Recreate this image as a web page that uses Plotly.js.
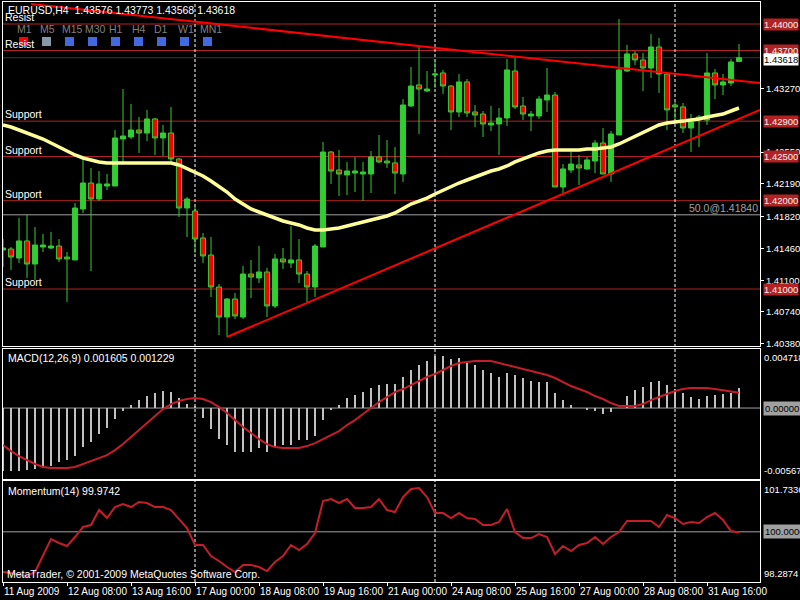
<!DOCTYPE html>
<html><head><meta charset="utf-8">
<script src="https://cdn.plot.ly/plotly-3.0.1.min.js"></script>
<style>html,body{margin:0;padding:0;background:#000;overflow:hidden}</style>
</head><body><div id="chart" style="width:800px;height:600px"></div>
<script>
// ---------- DATA (EURUSD H4, bar index 0 = 11 Aug 2009 00:00) ----------
const openP = [1.41442,1.41453,1.41351,1.41544,1.41283,1.41476,1.41464,1.41487,1.41362,1.41329,
 1.41906,1.42200,1.42019,1.42166,1.42166,1.42698,1.42721,1.42800,1.42766,1.42925,
 1.42710,1.42766,1.42472,1.41917,1.41883,1.41578,1.41385,1.41023,1.40683,1.40887,
 1.40683,1.41170,1.41125,1.41193,1.40808,1.41340,1.41295,1.41329,1.41170,1.41023,
 1.41476,1.42551,1.42347,1.42291,1.42313,1.42302,1.42302,1.42495,1.42449,1.42427,
 1.42302,1.43072,1.43310,1.43242,1.43423,1.43446,1.43298,1.43004,1.43344,1.43004,
 1.42981,1.42857,1.42868,1.42936,1.43468,1.43072,1.42959,1.42959,1.43140,1.43196,
 1.42155,1.42347,1.42404,1.42359,1.42449,1.42653,1.42302,1.42744,1.43468,1.43661,
 1.43593,1.43502,1.43740,1.43434,1.43083,1.43061,1.42823,1.42925,1.42913,1.43446,
 1.43310,1.43332,1.43576];
const highP = [1.41566,1.41476,1.41804,1.41838,1.41702,1.41623,1.41646,1.41566,1.41419,1.41974,
 1.42461,1.42370,1.42336,1.42302,1.42800,1.43264,1.43095,1.42947,1.43027,1.42936,
 1.42857,1.43061,1.42483,1.42042,1.41940,1.41634,1.41589,1.41057,1.40898,1.40955,
 1.41261,1.41329,1.41487,1.41238,1.41396,1.41464,1.41713,1.41566,1.41204,1.41510,
 1.42664,1.42563,1.42574,1.42438,1.42495,1.42438,1.42563,1.42744,1.42687,1.42608,
 1.43151,1.43513,1.43740,1.43468,1.43593,1.43480,1.43310,1.43434,1.43378,1.43083,
 1.43015,1.43072,1.43049,1.43604,1.43615,1.43174,1.43015,1.43185,1.43502,1.43230,
 1.42415,1.42551,1.42517,1.42495,1.42687,1.42823,1.42789,1.44057,1.43763,1.43695,
 1.43672,1.43887,1.43842,1.43457,1.43117,1.43106,1.42981,1.42970,1.43672,1.43491,
 1.43434,1.43604,1.43773];
const lowP = [1.41249,1.41215,1.41295,1.41125,1.41102,1.41419,1.41453,1.41306,1.40853,1.41329,
 1.41861,1.41204,1.41996,1.42121,1.42166,1.42438,1.42698,1.42540,1.42676,1.42517,
 1.42506,1.42438,1.41815,1.41589,1.41408,1.41295,1.40910,1.40479,1.40457,1.40661,
 1.40661,1.40898,1.41068,1.40683,1.40785,1.41227,1.41238,1.41068,1.40853,1.40910,
 1.41476,1.42189,1.42053,1.42064,1.42098,1.41996,1.42087,1.42427,1.42370,1.42076,
 1.42212,1.43061,1.42755,1.43230,1.43276,1.43208,1.42800,1.42947,1.42947,1.42834,
 1.42721,1.42789,1.42517,1.42846,1.43038,1.42913,1.42789,1.42925,1.43004,1.42155,
 1.42087,1.42313,1.42178,1.42347,1.42313,1.42302,1.42212,1.42744,1.43457,1.43536,
 1.43242,1.43389,1.43219,1.42800,1.42880,1.42766,1.42551,1.42608,1.42857,1.43151,
 1.43196,1.43298,1.43568];
const closeP = [1.41464,1.41362,1.41544,1.41283,1.41498,1.41498,1.41487,1.41340,1.41340,1.41917,
 1.42200,1.42019,1.42189,1.42189,1.42710,1.42732,1.42800,1.42766,1.42925,1.42710,
 1.42766,1.42472,1.41917,1.42019,1.41566,1.41374,1.41023,1.40683,1.40887,1.40695,
 1.41170,1.41136,1.41193,1.40808,1.41340,1.41306,1.41329,1.41170,1.41023,1.41487,
 1.42551,1.42336,1.42302,1.42336,1.42336,1.42325,1.42495,1.42438,1.42427,1.42313,
 1.43083,1.43298,1.43264,1.43264,1.43434,1.43298,1.43004,1.43344,1.42993,1.42970,
 1.42868,1.42880,1.42936,1.43480,1.43061,1.42981,1.42981,1.43151,1.43196,1.42155,
 1.42359,1.42415,1.42370,1.42461,1.42653,1.42302,1.42755,1.43480,1.43661,1.43593,
 1.43502,1.43740,1.43434,1.43027,1.43061,1.42823,1.42891,1.42947,1.43446,1.43310,
 1.43344,1.43570,1.43618];
const maLine = [1.42857,1.42834,1.42800,1.42766,1.42732,1.42698,1.42653,1.42608,1.42563,1.42517,
 1.42483,1.42461,1.42438,1.42427,1.42427,1.42427,1.42427,1.42427,1.42427,1.42427,
 1.42427,1.42427,1.42404,1.42359,1.42325,1.42280,1.42223,1.42166,1.42098,1.42019,
 1.41962,1.41906,1.41872,1.41838,1.41804,1.41770,1.41747,1.41725,1.41691,1.41668,
 1.41668,1.41679,1.41691,1.41713,1.41736,1.41759,1.41781,1.41804,1.41827,1.41861,
 1.41906,1.41962,1.41996,1.42030,1.42076,1.42121,1.42155,1.42200,1.42234,1.42268,
 1.42302,1.42336,1.42359,1.42393,1.42438,1.42472,1.42506,1.42540,1.42563,1.42574,
 1.42574,1.42574,1.42574,1.42585,1.42585,1.42596,1.42608,1.42642,1.42687,1.42732,
 1.42778,1.42823,1.42857,1.42880,1.42891,1.42902,1.42913,1.42925,1.42947,1.42959,
 1.42981,1.43015,1.43049];
const macdHist = [-0.00503,-0.00503,-0.00503,-0.00495,-0.00487,-0.00479,-0.00463,-0.00432,-0.00416,-0.00384,
 -0.00312,-0.00272,-0.00208,-0.00160,-0.00088,-0.00024,0.00024,0.00064,0.00096,0.00120,
 0.00136,0.00128,0.00080,0.00032,0.00016,-0.00080,-0.00168,-0.00248,-0.00296,-0.00352,
 -0.00352,-0.00352,-0.00320,-0.00352,-0.00312,-0.00296,-0.00296,-0.00256,-0.00256,-0.00224,
 -0.00096,-0.00016,0.00024,0.00080,0.00104,0.00128,0.00160,0.00184,0.00192,0.00192,
 0.00248,0.00304,0.00344,0.00376,0.00416,0.00416,0.00392,0.00400,0.00368,0.00344,
 0.00304,0.00280,0.00248,0.00280,0.00264,0.00240,0.00216,0.00208,0.00208,0.00120,
 0.00064,0.00024,0.00002,-0.00016,-0.00024,-0.00048,-0.00032,0.00002,0.00096,0.00144,
 0.00168,0.00208,0.00216,0.00184,0.00152,0.00120,0.00088,0.00072,0.00096,0.00104,
 0.00112,0.00120,0.001605];
const macdSignal = [-0.00296,-0.00344,-0.00384,-0.00416,-0.00447,-0.00471,-0.00479,-0.00479,-0.00479,-0.00471,
 -0.00447,-0.00424,-0.00400,-0.00376,-0.00336,-0.00288,-0.00232,-0.00176,-0.00120,-0.00064,
 -0.00008,0.00032,0.00056,0.00072,0.00080,0.00072,0.00048,0.00008,-0.00040,-0.00096,
 -0.00152,-0.00200,-0.00248,-0.00288,-0.00312,-0.00320,-0.00320,-0.00320,-0.00304,-0.00280,
 -0.00248,-0.00216,-0.00184,-0.00136,-0.00096,-0.00048,0.00000,0.00048,0.00088,0.00128,
 0.00152,0.00184,0.00216,0.00248,0.00272,0.00304,0.00336,0.00360,0.00368,0.00376,
 0.00376,0.00376,0.00360,0.00344,0.00328,0.00312,0.00296,0.00280,0.00264,0.00240,
 0.00208,0.00176,0.00152,0.00128,0.00096,0.00072,0.00040,0.00016,0.00016,0.00016,
 0.00032,0.00064,0.00088,0.00112,0.00136,0.00152,0.00160,0.00160,0.00160,0.00152,
 0.00144,0.00136,0.001229];
const momentum = [98.628,98.594,98.526,98.492,98.628,99.174,99.754,99.618,99.516,99.823,
 100.164,100.232,100.744,100.471,100.846,100.949,100.846,101.017,100.983,100.846,
 100.846,100.744,100.437,100.130,99.550,99.550,99.174,99.004,98.799,98.628,
 98.867,98.867,98.799,98.662,98.970,99.174,99.550,99.379,99.584,99.959,
 101.051,101.119,100.983,101.119,100.812,100.812,100.846,101.119,100.744,100.676,
 101.187,101.460,101.494,101.187,100.641,100.641,100.471,100.641,100.471,100.437,
 100.232,100.232,100.334,100.778,99.993,99.788,99.788,99.925,99.823,99.243,
 99.516,99.345,99.550,99.618,99.823,99.584,99.823,99.993,100.368,100.368,
 100.368,100.368,100.164,100.573,100.471,100.266,100.334,100.300,100.505,100.641,
 100.403,100.027,99.9742];
// time axis labels (every 8 bars)
const timeTickBars = [0,8,16,24,32,40,48,56,64,72,80,88];
const timeTickText = ["11 Aug 2009","12 Aug 08:00","13 Aug 16:00","17 Aug 00:00","18 Aug 08:00","19 Aug 16:00",
  "21 Aug 00:00","24 Aug 08:00","25 Aug 16:00","27 Aug 00:00","28 Aug 08:00","31 Aug 16:00"];
const weekStartBars = [24, 54, 84];
// horizontal levels
const resistLevels = [1.44000, 1.43700];
const supportLevels = [1.42900, 1.42500, 1.42000, 1.41000];
const fibLevel = 1.41840;
const bidPrice = 1.43618;
const priceTicks = [1.43270,1.42550,1.42190,1.41820,1.41460,1.41100,1.40740,1.40380];
// trend lines (bar index, price)
const trendDownX = [3.5, 94.625], trendDownY = [1.44227, 1.43332];
const trendUpX = [28, 94.625], trendUpY = [1.40457, 1.43027];
const timeframes = ["M1","M5","M15","M30","H1","H4","D1","W1","MN1"];

// ---------- CHART ----------
const idx = openP.map((_, i) => i);
const FONT = 'Liberation Sans, Arial, sans-serif';
const GREEN = '#32CD32', DRED = '#B22222', SIG = '#C41E2A';
// pixel helpers for decorations (plot area x 3..760, y 2..582)
const px = x => (x - 3) / 757, py = y => (582 - y) / 580;

const traces = [
  {type:'candlestick', x: idx, open: openP, high: highP, low: lowP, close: closeP,
   xaxis:'x', yaxis:'y', hoverinfo:'skip', whiskerwidth: 0,
   increasing:{line:{color:GREEN, width:1}, fillcolor:GREEN},
   decreasing:{line:{color:GREEN, width:1}, fillcolor:'#FF0000'}},
  {type:'scatter', mode:'lines', x: idx, y: maLine, xaxis:'x', yaxis:'y',
   line:{color:'#FFFF99', width:3.5}, hoverinfo:'skip'},
  {type:'scatter', mode:'lines', x: trendDownX, y: trendDownY, xaxis:'x', yaxis:'y',
   line:{color:'#FF0000', width:2}, hoverinfo:'skip'},
  {type:'scatter', mode:'lines', x: trendUpX, y: trendUpY, xaxis:'x', yaxis:'y',
   line:{color:'#FF0000', width:2}, hoverinfo:'skip'},
  {type:'bar', x: idx, y: macdHist, xaxis:'x2', yaxis:'y2', width:0.14,
   marker:{color:'#C0C0C0', line:{width:0}}, hoverinfo:'skip'},
  {type:'scatter', mode:'lines', x: idx, y: macdSignal, xaxis:'x2', yaxis:'y2',
   line:{color:SIG, width:2}, hoverinfo:'skip'},
  {type:'scatter', mode:'lines', x: idx, y: momentum, xaxis:'x3', yaxis:'y3',
   line:{color:SIG, width:2}, hoverinfo:'skip'}
];

const xBase = {showline:true, mirror:true, linecolor:'#FFFFFF', linewidth:1, showgrid:false,
  zeroline:false, fixedrange:true};
const layout = {
  width:800, height:600, paper_bgcolor:'#000', plot_bgcolor:'#000',
  margin:{l:3, r:40, t:2, b:18}, showlegend:false, boxgap:0.2, boxgroupgap:0.2, bargap:0,
  font:{family:FONT, color:'#FFFFFF', size:10},
  xaxis: Object.assign({}, xBase, {anchor:'y', range:[0, 94.625], showticklabels:false, ticks:'',
    rangeslider:{visible:false}}),
  xaxis2: Object.assign({}, xBase, {anchor:'y2', matches:'x', showticklabels:false, ticks:''}),
  xaxis3: Object.assign({}, xBase, {anchor:'y3', matches:'x', tickmode:'array', tickvals: timeTickBars,
    ticktext: timeTickText, ticks:'outside', ticklen:3, tickcolor:'#FFFFFF', tickangle:0,
    ticklabelposition:'outside right', automargin:false, tickfont:{size:10, color:'#FFFFFF'}}),
  yaxis: {domain:[0.4069, 1], range:[1.40355, 1.44249], side:'right', showline:true, mirror:true,
    linecolor:'#FFFFFF', showgrid:false, zeroline:false, tickmode:'array', tickvals: priceTicks,
    tickformat:'.5f', ticks:'outside', ticklen:3, tickcolor:'#FFFFFF', automargin:false,
    tickfont:{size:9.5, color:'#FFFFFF'}, fixedrange:true},
  yaxis2: {domain:[0.1776, 0.4017], range:[-0.00567, 0.004718], side:'right', showline:true, mirror:true,
    linecolor:'#FFFFFF', showgrid:false, zeroline:false, showticklabels:false, ticks:'', fixedrange:true},
  yaxis3: {domain:[0, 0.1741], range:[98.2874, 101.7336], side:'right', showline:true, mirror:true,
    linecolor:'#FFFFFF', showgrid:false, zeroline:false, showticklabels:false, ticks:'', fixedrange:true},
  shapes: [], annotations: []
};

// horizontal level lines
resistLevels.concat(supportLevels).forEach(v => layout.shapes.push({type:'line', xref:'paper', x0:0, x1:1,
  yref:'y', y0:v, y1:v, line:{color:DRED, width:1}, layer:'below'}));
layout.shapes.push({type:'line', xref:'paper', x0:0, x1:1, yref:'y', y0:fibLevel, y1:fibLevel,
  line:{color:'#A0A0A0', width:1}, layer:'below'});
layout.shapes.push({type:'line', xref:'paper', x0:0, x1:1, yref:'y', y0:bidPrice, y1:bidPrice,
  line:{color:'#383838', width:1}, layer:'below'});
layout.shapes.push({type:'line', xref:'paper', x0:0, x1:1, yref:'y2', y0:0, y1:0,
  line:{color:'#A0A0A0', width:1}, layer:'below'});
layout.shapes.push({type:'line', xref:'paper', x0:0, x1:1, yref:'y3', y0:100, y1:100,
  line:{color:'#A0A0A0', width:1}, layer:'below'});
// weekly separators
weekStartBars.forEach(b => layout.shapes.push({type:'line', xref:'x', x0:b, x1:b, yref:'paper', y0:0, y1:1,
  line:{color:'#FFFFFF', width:1, dash:'3px,2px'}, layer:'below'}));

const A = layout.annotations;
// level labels on the left
resistLevels.forEach(v => A.push({xref:'paper', x:0, xanchor:'left', xshift:1, yref:'y', y:v, yanchor:'bottom',
  text:'Resist', showarrow:false, font:{size:10.5, color:'#FFFFFF'}, borderpad:0}));
supportLevels.forEach(v => A.push({xref:'paper', x:0, xanchor:'left', xshift:1, yref:'y', y:v, yanchor:'bottom',
  text:'Support', showarrow:false, font:{size:10.5, color:'#FFFFFF'}, borderpad:0}));
A.push({xref:'paper', x:1, xanchor:'right', xshift:-1, yref:'y', y:fibLevel, yanchor:'bottom',
  text:'50.0@' + fibLevel.toFixed(5), showarrow:false, font:{size:10.5, color:'#A0A0A0'}, borderpad:0});
// boxed level labels on the right axis
resistLevels.concat(supportLevels).forEach(v => A.push({xref:'paper', x:1, xanchor:'left', xshift:3,
  yref:'y', y:v, yanchor:'middle', text:v.toFixed(5), showarrow:false, bgcolor:DRED,
  font:{size:9.5, color:'#F0F0F0'}, borderpad:0}));
// bid price box on top
A.push({xref:'paper', x:1, xanchor:'left', xshift:3, yref:'y', y:bidPrice, yanchor:'middle', yshift:-1.5,
  text:bidPrice.toFixed(5), showarrow:false, bgcolor:'#FFFFFF', font:{size:9.5, color:'#000000'}, borderpad:0});
// MACD scale labels
A.push({xref:'paper', x:1, xanchor:'left', xshift:2, yref:'y2 domain', y:1, yanchor:'top', yshift:-1,
  text:'0.004718', showarrow:false, font:{size:9.5, color:'#FFFFFF'}});
A.push({xref:'paper', x:1, xanchor:'left', xshift:3, yref:'y2', y:0, yanchor:'middle',
  text:'0.00000', showarrow:false, bgcolor:'#A0A0A0', font:{size:9.5, color:'#000000'}, borderpad:1});
A.push({xref:'paper', x:1, xanchor:'left', xshift:2, yref:'y2 domain', y:0, yanchor:'bottom', yshift:1,
  text:'-0.00567', showarrow:false, font:{size:9.5, color:'#FFFFFF'}});
// Momentum scale labels
A.push({xref:'paper', x:1, xanchor:'left', xshift:2, yref:'y3 domain', y:1, yanchor:'top', yshift:-1,
  text:'101.7336', showarrow:false, font:{size:9.5, color:'#FFFFFF'}});
A.push({xref:'paper', x:1, xanchor:'left', xshift:3, yref:'y3', y:100, yanchor:'middle',
  text:'100.0000', showarrow:false, bgcolor:'#A0A0A0', font:{size:9.5, color:'#000000'}, borderpad:1});
A.push({xref:'paper', x:1, xanchor:'left', xshift:2, yref:'y3 domain', y:0, yanchor:'bottom', yshift:1,
  text:'98.2874', showarrow:false, font:{size:9.5, color:'#FFFFFF'}});

// panel captions
const last = openP.length - 1;
A.push({xref:'paper', x:px(6), xanchor:'left', yref:'paper', y:py(10), yanchor:'middle', showarrow:false,
  text:'EURUSD,H4  ' + [openP[last], highP[last], lowP[last], closeP[last]].map(v => v.toFixed(5)).join(' '),
  font:{size:10.5, color:'#FFFFFF'}});
A.push({xref:'paper', x:px(6), xanchor:'left', yref:'paper', y:py(358), yanchor:'middle', showarrow:false,
  text:'MACD(12,26,9) ' + macdHist[last].toFixed(6) + ' ' + macdSignal[last].toFixed(6),
  font:{size:10.5, color:'#FFFFFF'}});
A.push({xref:'paper', x:px(6), xanchor:'left', yref:'paper', y:py(491), yanchor:'middle', showarrow:false,
  text:'Momentum(14) ' + momentum[last].toFixed(4), font:{size:10.5, color:'#FFFFFF'}});
A.push({xref:'paper', x:px(5), xanchor:'left', yref:'paper', y:py(574), yanchor:'middle', showarrow:false,
  text:'MetaTrader, \u00A9 2001-2009 MetaQuotes Software Corp.', font:{size:10.5, color:'#FFFFFF'}});

// timeframe toolbar
const tfLabelX = [24, 47, 72, 95, 116, 139, 161, 186, 211];
const tfBoxX = [23.5, 46.5, 69.5, 92.5, 115.5, 138.5, 161.5, 184.5, 207.5];
timeframes.forEach((t, i) => {
  A.push({xref:'paper', x:px(tfLabelX[i]), xanchor:'center', yref:'paper', y:py(29), yanchor:'middle',
    showarrow:false, text:t, font:{size:10.5, color:'#808080'}});
  layout.shapes.push({type:'rect', xref:'paper', yref:'paper', x0:px(tfBoxX[i]-4.5), x1:px(tfBoxX[i]+4.5),
    y0:py(46), y1:py(37), fillcolor: i === 0 ? '#FF0000' : (i === 1 ? '#8898A8' : '#4169E1'),
    line:{width:0}, layer:'above'});
});

Plotly.newPlot('chart', traces, layout, {staticPlot:true, displayModeBar:false});
</script></body></html>
